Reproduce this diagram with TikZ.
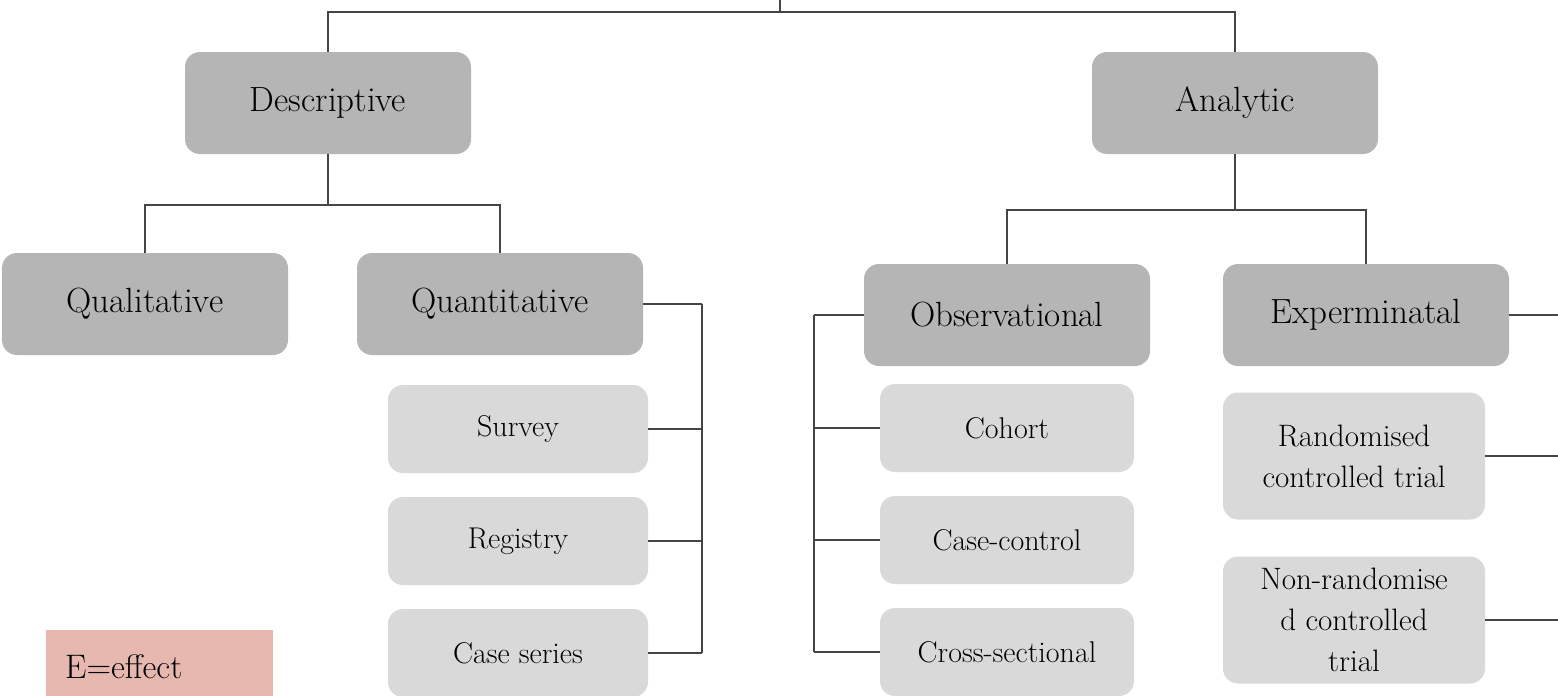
\documentclass[tikz,border=0pt]{standalone}
\definecolor{darkbox}{HTML}{B5B5B5}
\definecolor{lightbox}{HTML}{D9D9D9}
\definecolor{keyfill}{HTML}{E6B8B0}
\definecolor{wire}{HTML}{454545}
\begin{document}
\begin{tikzpicture}[x=1pt,y=-1pt,
	bigbox/.style={fill=darkbox,rounded corners=15pt,minimum width=286pt,minimum height=102pt,inner sep=0pt,font=\fontsize{35}{40}\selectfont},
	smallbox/.style={fill=lightbox,rounded corners=15pt,minimum width=260pt,minimum height=88pt,inner sep=0pt,align=center,font=\fontsize{30}{40}\selectfont},
	wire/.style={draw=wire,line width=2pt}]
	\clip (0,0) rectangle (1558,696);
	\coordinate (root) at (780,0);
	\coordinate (edge) at (1558,0);

	\node[bigbox] (desc) at (328,103) {Descriptive};
	\node[bigbox] (anal) at (1235,103) {Analytic};

	\node[bigbox] (qual) at (145,304) {Qualitative};
	\node[bigbox] (quant) at (500,304) {Quantitative};
	\node[smallbox] (survey) at (518,429) {Survey};
	\node[smallbox] (registry) at (518,541) {Registry};
	\node[smallbox] (caseser) at (518,653) {Case series};

	\node[bigbox] (obs) at (1007,315) {Observational};
	\node[bigbox] (expm) at (1366,315) {Experminatal};
	\node[smallbox,minimum width=254pt] (cohort) at (1007,428) {Cohort};
	\node[smallbox,minimum width=254pt] (casectl) at (1007,540) {Case-control};
	\node[smallbox,minimum width=254pt] (crosssec) at (1007,652) {Cross-sectional};
	\node[smallbox,minimum width=262pt,minimum height=127pt,font=\fontsize{31}{41}\selectfont] (rct) at (1354,456) {Randomised\\controlled trial};
	\node[smallbox,minimum width=262pt,minimum height=127pt,font=\fontsize{31}{41}\selectfont] (nrct) at (1354,620) {Non-randomise\\d controlled\\trial};

	\node[fill=keyfill,minimum width=227pt,minimum height=80pt,inner sep=0pt] (key) at (159,670) {};
	\node[anchor=base west,inner sep=0pt,font=\fontsize{34}{40}\selectfont] (keytext) at (65,678) {E=effect};

	\draw[wire] (root) -- ++(0,12) coordinate (bus);
	\draw[wire] (desc.north) |- (bus) -| (anal.north);

	\draw[wire] (desc.south) -- ++(0,51) coordinate (dsplit);
	\draw[wire] (qual.north) |- (dsplit) -| (quant.north);
	\draw[wire] (anal.south) -- ++(0,56) coordinate (asplit);
	\draw[wire] (obs.north) |- (asplit) -| (expm.north);

	\draw[wire] (quant.east) -- ++(59,0) coordinate (qbar);
	\draw[wire] (qbar) -- (qbar |- caseser.east);
	\foreach \n in {survey,registry,caseser}
		\draw[wire] (\n.east) -- (\n.east -| qbar);

	\draw[wire] (obs.west) -- ++(-50,0) coordinate (obar);
	\draw[wire] (obar) -- (obar |- crosssec.west);
	\foreach \n in {cohort,casectl,crosssec}
		\draw[wire] (\n.west) -- (\n.west -| obar);

	\foreach \n in {expm,rct,nrct}
		\draw[wire] (\n.east) -- (\n.east -| edge);
\end{tikzpicture}
\end{document}
